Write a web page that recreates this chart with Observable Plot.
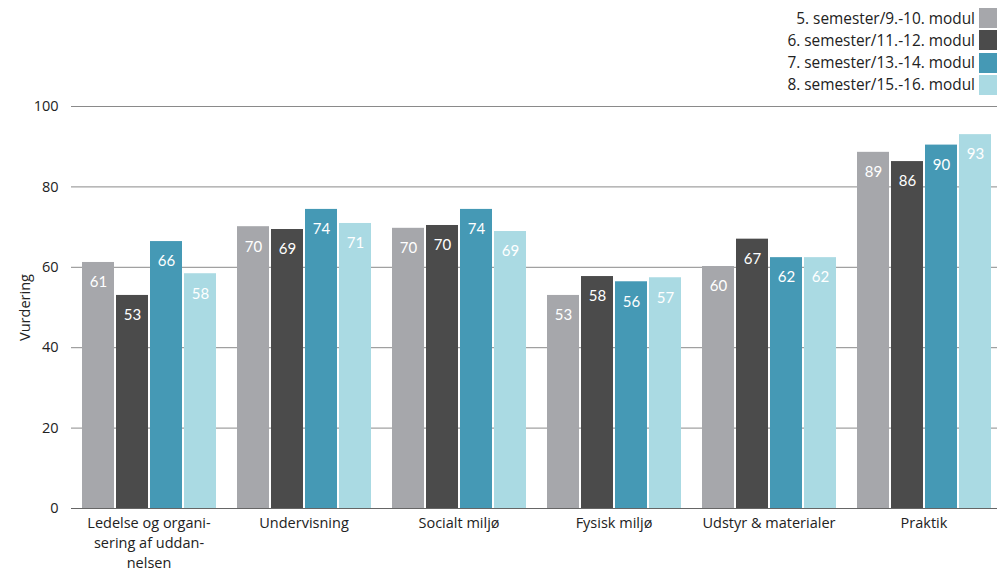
<!DOCTYPE html>
<html>
<head>
<meta charset="utf-8">
<script src="https://cdn.jsdelivr.net/npm/d3@7"></script>
<script src="https://cdn.jsdelivr.net/npm/@observablehq/plot@0.6"></script>
<style>
  html, body { margin: 0; padding: 0; background: #fff; overflow: hidden; }
  #wrap { width: 997px; font-family: "Open Sans", sans-serif; }
  #legend { height: 90px; box-sizing: border-box; padding-top: 8px; }
  .row { display: flex; justify-content: flex-end; align-items: center; height: 20px; margin-bottom: 2.3px; }
  .row span { font-size: 15.4px; color: #222; margin-right: 4px; }
  .row i { display: inline-block; width: 18px; height: 20px; }
</style>
</head>
<body>
<div id="wrap">
  <div id="legend"></div>
  <div id="chart"></div>
</div>
<script>
const categories = ["Ledelse og organisering af uddannelsen", "Undervisning", "Socialt miljø", "Fysisk miljø", "Udstyr & materialer", "Praktik"];
const categoryLabels = ["Ledelse og organi-\nsering af uddan-\nnelsen", "Undervisning", "Socialt miljø", "Fysisk miljø", "Udstyr & materialer", "Praktik"];
const series = ["5. semester/9.-10. modul", "6. semester/11.-12. modul", "7. semester/13.-14. modul", "8. semester/15.-16. modul"];
const sem5 = [61.2, 70.1, 69.7, 53.0, 60.2, 88.6];
const sem6 = [53.0, 69.4, 70.4, 57.7, 67.0, 86.3];
const sem7 = [66.4, 74.4, 74.4, 56.4, 62.4, 90.4];
const sem8 = [58.4, 70.9, 68.9, 57.4, 62.4, 93.0];
const colors = ["#a6a7ab", "#4b4b4b", "#4599b5", "#aadae3"];
const yTicks = [0, 20, 40, 60, 80, 100];

const seriesValues = [sem5, sem6, sem7, sem8];
const data = categories.flatMap((c, i) => series.map((s, j) => ({category: c, series: s, value: seriesValues[j][i]})));
const labelOf = new Map(categories.map((c, i) => [c, categoryLabels[i]]));

const legend = document.getElementById("legend");
series.forEach((s, j) => {
  const row = document.createElement("div");
  row.className = "row";
  const t = document.createElement("span");
  t.textContent = s;
  const sw = document.createElement("i");
  sw.style.background = colors[j];
  row.appendChild(t); row.appendChild(sw);
  legend.appendChild(row);
});

const chart = Plot.plot({
  width: 997,
  height: 482,
  marginTop: 16,
  marginBottom: 64,
  marginLeft: 68,
  marginRight: -6,
  style: {fontFamily: "Open Sans, sans-serif", fontSize: "14px", color: "#222", background: "#fff", overflow: "hidden"},
  fx: {domain: categories, padding: 0, label: null, axis: null},
  x: {domain: series, axis: null, paddingInner: 0.07, paddingOuter: 0.3},
  y: {domain: [0, 100]},
  color: {domain: series, range: colors},
  marks: [
    Plot.ruleY(yTicks.filter(d => d > 0), {stroke: "#8a8a8a", strokeWidth: 1}),
    Plot.barY(data, {fx: "category", x: "series", y: "value", fill: "series"}),
    Plot.text(data, {fx: "category", x: "series", y: "value", text: d => String(Math.round(d.value)), dy: 20, fill: "white", fontSize: 15, fontFamily: "Lato, sans-serif"}),
    Plot.ruleY([0], {stroke: "#666", strokeWidth: 1.2}),
    Plot.axisY({ticks: yTicks, tickSize: 0, tickPadding: 13, fontSize: 14.5, label: "Vurdering", labelAnchor: "center", labelOffset: 52, labelArrow: "none"}),
    Plot.axisFx({anchor: "bottom", tickSize: 0, tickPadding: 6, fontSize: 14.5, lineHeight: 1.35, tickFormat: d => labelOf.get(d), label: null})
  ]
});
document.getElementById("chart").appendChild(chart);
</script>
</body>
</html>
